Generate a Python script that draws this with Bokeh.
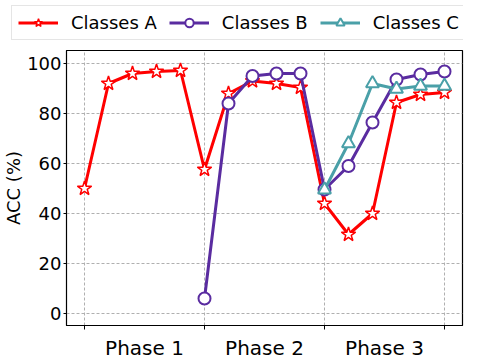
from bokeh.plotting import figure
from bokeh.models import FixedTicker, Legend, LegendItem, Range1d
from bokeh.embed import file_html
from bokeh.resources import INLINE

steps = list(range(16))
acc_a = [50, 92, 96, 96.8, 97.2, 57.6, 88, 93, 92, 90.4, 44, 31.6, 40, 84.4, 87.6, 88.4]
steps_b = list(range(5, 16))
acc_b = [6, 84, 95, 96, 96, 49.6, 59, 76.4, 93.6, 95.6, 96.8]
steps_c = list(range(10, 16))
acc_c = [49.5, 68, 92, 89.8, 91, 91]
series_names = ["Classes A", "Classes B", "Classes C"]
phase_pos = [2.5, 7.5, 12.5]
phase_labels = ["Phase 1", "Phase 2", "Phase 3"]
boundaries = [0, 5, 10, 15]
y_ticks = [0, 20, 40, 60, 80, 100]

RED = "#ff0000"
PURPLE = "#5a2ca0"
TEAL = "#4aa0a8"
FONT = "DejaVu Sans"

styles = [
    dict(color=RED, marker="star", size=15, mlw=1.5),
    dict(color=PURPLE, marker="circle", size=12, mlw=2),
    dict(color=TEAL, marker="triangle", size=13, mlw=2),
]


def draw(fig, xs, ys, st):
    ln = fig.line(xs, ys, line_color=st["color"], line_width=3)
    mk = fig.scatter(xs, ys, marker=st["marker"], size=st["size"], fill_color="white",
                     line_color=st["color"], line_width=st["mlw"])
    return [ln, mk]


# ---- main chart ----
p = figure(frame_width=396, frame_height=275, output_backend="svg", toolbar_location=None,
           x_range=Range1d(-0.75, 15.75), y_range=Range1d(-4.8, 105.2),
           min_border_left=58, min_border_top=1, min_border_right=9, min_border_bottom=4)

draw(p, steps, acc_a, styles[0])
draw(p, steps_b, acc_b, styles[1])
draw(p, steps_c, acc_c, styles[2])

p.xaxis.ticker = FixedTicker(ticks=phase_pos, minor_ticks=boundaries)
p.xaxis.major_label_overrides = {pos: lab for pos, lab in zip(phase_pos, phase_labels)}
p.xaxis.major_tick_out = 0
p.xaxis.major_tick_in = 0
p.xaxis.minor_tick_out = 4
p.xaxis.minor_tick_in = 0
p.xaxis.minor_tick_line_color = "black"
p.xaxis.major_label_text_font = FONT
p.xaxis.major_label_text_font_size = "20px"
p.xaxis.major_label_standoff = 6

p.yaxis.ticker = FixedTicker(ticks=y_ticks)
p.yaxis.minor_tick_line_color = None
p.yaxis.major_tick_out = 3
p.yaxis.major_tick_in = 0
p.yaxis.major_label_text_font = FONT
p.yaxis.major_label_text_font_size = "18px"
p.yaxis.major_label_standoff = 2
p.yaxis.axis_label = "ACC (%)"
p.yaxis.axis_label_text_font = FONT
p.yaxis.axis_label_text_font_size = "18px"
p.yaxis.axis_label_text_font_style = "normal"
p.yaxis.axis_label_text_color = "black"
p.yaxis.axis_label_standoff = 0

p.xgrid.ticker = FixedTicker(ticks=boundaries)

for ax in (p.xaxis, p.yaxis):
    ax.axis_line_color = "black"
    ax.major_tick_line_color = "black"
    ax.major_label_text_color = "black"

for g in (p.xgrid, p.ygrid):
    g.grid_line_color = "#b0b0b0"
    g.grid_line_dash = "3 2"
    g.grid_line_width = 1

p.outline_line_color = "black"
p.outline_line_width = 1.2

# ---- legend strip (separate root, stacked above the chart) ----
lf = figure(width=463, height=49, output_backend="svg", toolbar_location=None,
            x_range=Range1d(0, 1), y_range=Range1d(0, 1),
            x_axis_location=None, y_axis_location=None,
            min_border=0)
lf.outline_line_color = None
lf.xgrid.visible = False
lf.ygrid.visible = False
items = []
for name, st in zip(series_names, styles):
    items.append(LegendItem(label=name, renderers=draw(lf, [10], [10], st)))

legend = Legend(items=items, orientation="horizontal", location=(11, 9))
legend.label_text_font = FONT
legend.label_text_font_size = "18px"
legend.label_text_color = "black"
legend.glyph_width = 40
legend.glyph_height = 21
legend.label_height = 21
legend.label_standoff = 13
legend.spacing = 12
legend.padding = 6
legend.margin = 0
legend.border_line_color = "#cccccc"
legend.border_line_width = 1
legend.background_fill_alpha = 1
lf.add_layout(legend, "center")

open("out.html", "w").write(file_html([lf, p], INLINE))
